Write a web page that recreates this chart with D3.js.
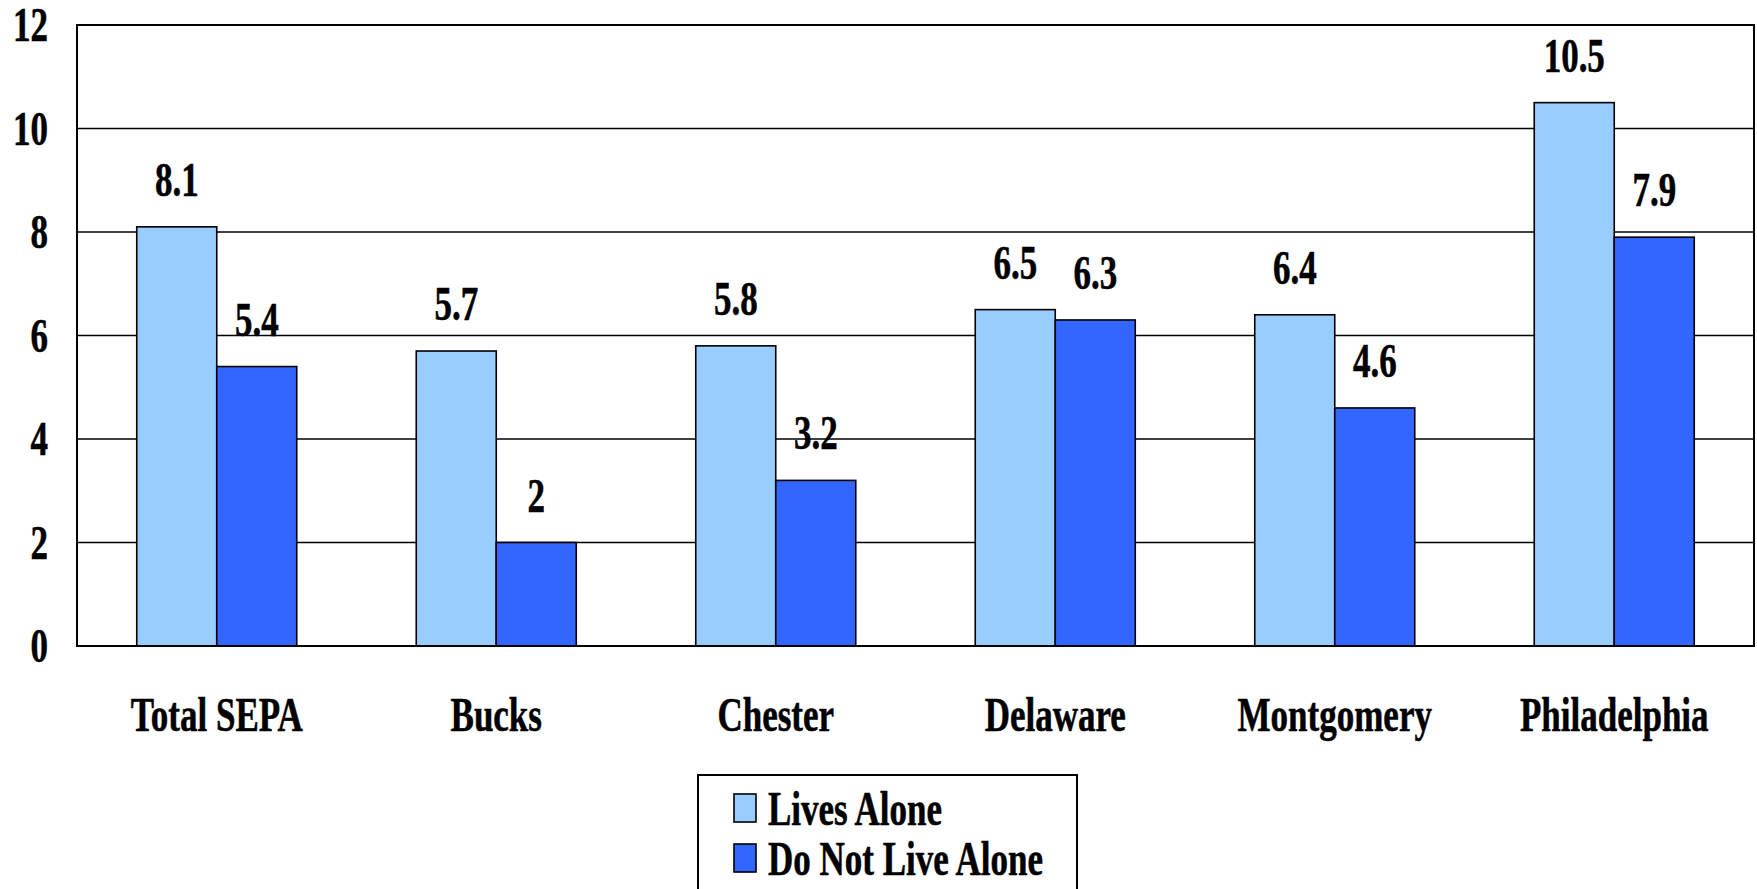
<!DOCTYPE html>
<html>
<head>
<meta charset="utf-8">
<script src="https://cdn.jsdelivr.net/npm/d3@7"></script>
<style>
  html, body { margin: 0; padding: 0; background: #fff; }
  svg { display: block; }
  text { font-family: "Liberation Serif", "Times New Roman", serif; font-weight: bold; fill: #000; stroke: #000; stroke-width: 0.4px; }
</style>
</head>
<body>
<svg id="chart" width="1757" height="889"></svg>
<script>
const categories = ["Total SEPA", "Bucks", "Chester", "Delaware", "Montgomery", "Philadelphia"];
const seriesNames = ["Lives Alone", "Do Not Live Alone"];
const livesAlone = [8.1, 5.7, 5.8, 6.5, 6.4, 10.5];
const doNotLiveAlone = [5.4, 2, 3.2, 6.3, 4.6, 7.9];
const yTicks = [0, 2, 4, 6, 8, 10, 12];
const colors = ["#99CCFF", "#3366FF"];

(function () {
const svg = d3.select("#chart");
const pLeft = 77, pRight = 1754, pTop = 25, pBottom = 646;
const FS = 35, SY = 1.4;

const x0 = d3.scaleBand().domain(categories).range([pLeft, pRight]).paddingInner(0.4275).paddingOuter(0.21375);
const x1 = d3.scaleBand().domain(seriesNames).range([0, x0.bandwidth()]);
const y = d3.scaleLinear().domain([0, 12]).range([pBottom, pTop]);

const data = categories.map((c, i) => ({cat: c, vals: [livesAlone[i], doNotLiveAlone[i]]}));

// gridlines
svg.append("g").selectAll("line").data(yTicks).join("line")
  .attr("x1", pLeft).attr("x2", pRight)
  .attr("y1", d => y(d)).attr("y2", d => y(d))
  .attr("stroke", "#000").attr("stroke-width", 1.6);

// y tick labels
svg.append("g").selectAll("text").data(yTicks).join("text")
  .attr("transform", d => `translate(48,${y(d) + 16}) scale(1,${SY})`)
  .attr("text-anchor", "end").attr("font-size", FS)
  .text(d => d);

// bars
const groups = svg.append("g").selectAll("g").data(data).join("g")
  .attr("transform", d => `translate(${x0(d.cat)},0)`);

groups.selectAll("rect").data(d => d.vals.map((v, j) => ({name: seriesNames[j], v, j}))).join("rect")
  .attr("x", d => x1(d.name)).attr("width", x1.bandwidth())
  .attr("y", d => y(d.v)).attr("height", d => y(0) - y(d.v))
  .attr("fill", d => colors[d.j]).attr("stroke", "#000").attr("stroke-width", 1.6);

groups.selectAll("text").data(d => d.vals.map((v, j) => ({name: seriesNames[j], v, j}))).join("text")
  .attr("transform", d => `translate(${x1(d.name) + x1.bandwidth() / 2},${y(d.v) - 31}) scale(1,${SY})`)
  .attr("text-anchor", "middle").attr("font-size", FS)
  .text(d => d.v);

// plot frame
svg.append("rect").attr("x", pLeft).attr("y", pTop).attr("width", pRight - pLeft).attr("height", pBottom - pTop)
  .attr("fill", "none").attr("stroke", "#000").attr("stroke-width", 2);

// category labels
svg.append("g").selectAll("text").data(categories).join("text")
  .attr("transform", d => `translate(${x0(d) + x0.bandwidth() / 2},731) scale(1,${SY})`)
  .attr("text-anchor", "middle").attr("font-size", FS)
  .text(d => d);

// legend
const lg = svg.append("g");
lg.append("rect").attr("x", 698).attr("y", 775).attr("width", 379).attr("height", 140)
  .attr("fill", "#fff").attr("stroke", "#000").attr("stroke-width", 2);
const items = lg.selectAll("g").data(seriesNames).join("g")
  .attr("transform", (d, i) => `translate(0,${i * 50})`);
items.append("rect").attr("x", 734).attr("y", 794).attr("width", 22).attr("height", 28)
  .attr("fill", (d, i) => colors[i]).attr("stroke", "#000").attr("stroke-width", 1.6);
items.append("text")
  .attr("transform", `translate(768,825) scale(1,${SY})`)
  .attr("font-size", FS).text(d => d);
})();
</script>
</body>
</html>
